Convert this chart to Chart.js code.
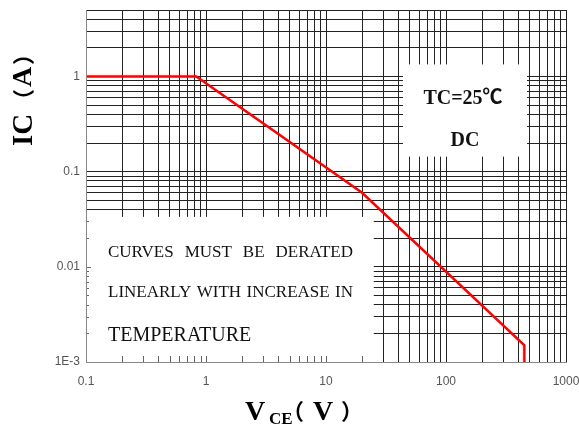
<!DOCTYPE html>
<html><head><meta charset="utf-8">
<script src="https://cdn.jsdelivr.net/npm/chart.js@4"></script>
<style>html,body{margin:0;padding:0;background:#fff}canvas{display:block}</style>
</head><body>
<canvas id="c" width="579" height="426"></canvas>
<script>
// ---- data ----
const vce = [0.1, 0.83, 20, 450, 450];
const ic  = [1, 1, 0.06, 0.0015, 0.001];
const xTickValues = [0.1, 1, 10, 100, 1000];
const xTickLabels = ['0.1', '1', '10', '100', '1000'];
const yTickValues = [0.001, 0.01, 0.1, 1];
const yTickLabels = ['1E-3', '0.01', '0.1', '1'];
const noteLines = ['CURVES MUST BE DERATED', 'LINEARLY WITH INCREASE IN', 'TEMPERATURE'];
const condLines = ['TC=25℃', 'DC'];
const xMin = 0.1, xMax = 1000, yMin = 0.001, yMax = 5;

function logGrid(min, max) {
  const out = [];
  for (let e = Math.floor(Math.log10(min) + 1e-9); Math.pow(10, e) <= max * 1.0001; e++) {
    for (let k = 1; k <= 9; k++) {
      const v = +(k * Math.pow(10, e)).toPrecision(6);
      if (v >= min * 0.9999 && v <= max * 1.0001) out.push(v);
    }
  }
  return out;
}
const gridX = logGrid(xMin, xMax);
const gridY = logGrid(yMin, yMax);
function labelFor(vals, labels, v) {
  const i = vals.findIndex(t => Math.abs(t - v) / t < 1e-6);
  return i >= 0 ? labels[i] : '';
}

function drawInk(ctx, text, font, inkLeft, inkTop) {
  ctx.font = font;
  ctx.textAlign = 'left';
  ctx.textBaseline = 'alphabetic';
  const m = ctx.measureText(text);
  ctx.fillText(text, inkLeft + m.actualBoundingBoxLeft, inkTop + m.actualBoundingBoxAscent);
}

const overlay = {
  id: 'overlay',
  beforeDatasetsDraw(chart) {
    const { ctx, scales: { x, y } } = chart;
    ctx.save();
    // note box
    const nx0 = x.getPixelForValue(0.1), nx1 = x.getPixelForValue(25);
    const ny0 = y.getPixelForValue(0.0335), ny1 = y.getPixelForValue(0.001);
    ctx.fillStyle = '#fff';
    ctx.fillRect(nx0, ny0, nx1 - nx0, ny1 - ny0);
    // condition box
    const cx0 = x.getPixelForValue(43.8), cx1 = x.getPixelForValue(473);
    const cy0 = y.getPixelForValue(1.34), cy1 = y.getPixelForValue(0.144);
    ctx.fillRect(cx0, cy0, cx1 - cx0, cy1 - cy0);
    // inner ticks inside note box
    ctx.strokeStyle = '#666';
    ctx.lineWidth = 1;
    ctx.beginPath();
    gridX.forEach(v => {
      const px = Math.round(x.getPixelForValue(v)) + 0.5;
      if (px > nx0 + 2 && px < nx1) { ctx.moveTo(px, ny1); ctx.lineTo(px, ny1 - 6); }
    });
    gridY.forEach(v => {
      const py = Math.round(y.getPixelForValue(v)) + 0.5;
      if (py > ny0 && py < ny1 - 2) {
        const len = yTickValues.some(t => Math.abs(t - v) / t < 1e-6) ? 5 : 3;
        ctx.moveTo(nx0, py); ctx.lineTo(nx0 + len, py);
      }
    });
    ctx.stroke();
    // note text
    ctx.fillStyle = '#111';
    ctx.textBaseline = 'alphabetic';
    ctx.textAlign = 'left';
    const left = 108, width = 245;
    const base = [256.5, 296.5];
    [0, 1].forEach(li => {
      ctx.font = '17px "Liberation Serif", "Times New Roman", serif';
      const words = noteLines[li].split(' ');
      const ws = words.map(w => ctx.measureText(w).width);
      const gap = (width - ws.reduce((a, b) => a + b, 0)) / (words.length - 1);
      let px = left;
      words.forEach((w, i) => { ctx.fillText(w, px, base[li]); px += ws[i] + gap; });
    });
    ctx.font = '20px "Liberation Serif", "Times New Roman", serif';
    ctx.fillText(noteLines[2], left, 340.5);
    // condition text
    ctx.textAlign = 'center';
    ctx.font = 'bold 20px "Liberation Serif", "Noto Sans CJK SC", serif';
    ctx.fillText(condLines[0], 463, 104);
    ctx.fillText(condLines[1], 465, 146);
    ctx.restore();
  },
  afterDraw(chart) {
    const ctx = chart.ctx;
    ctx.save();
    ctx.fillStyle = '#000';
    const serifB = (s) => `bold ${s}px "Liberation Serif", "Times New Roman", serif`;
    const cjkB = (s) => `bold ${s}px "Noto Sans CJK SC", sans-serif`;
    // x title: V_CE（V）
    drawInk(ctx, 'V', serifB(28), 245, 401.5);
    drawInk(ctx, 'CE', serifB(17), 269, 412.5);
    drawInk(ctx, '（', cjkB(22), 296, 400);
    drawInk(ctx, 'V', serifB(28), 313, 401.5);
    drawInk(ctx, '）', cjkB(22), 341, 400);
    // y title: IC（A） rotated
    ctx.save();
    ctx.rotate(-Math.PI / 2);
    // in rotated coords: (u, v) -> screen (v, -u)
    drawInk(ctx, 'IC', serifB(29), -146, 13);
    drawInk(ctx, '（', cjkB(22), -97, 12);
    drawInk(ctx, 'A', serifB(28), -87, 13);
    drawInk(ctx, '）', cjkB(22), -65, 12);
    ctx.restore();
    ctx.restore();
  }
};

const tickFont = { family: '"Liberation Sans", Arial, sans-serif', size: 12 };

new Chart(document.getElementById('c'), {
  type: 'scatter',
  data: {
    datasets: [{
      data: vce.map((v, i) => ({ x: v, y: ic[i] })),
      showLine: true,
      borderColor: '#ff0000',
      backgroundColor: '#ff0000',
      borderWidth: 2.5,
      pointRadius: 0,
      tension: 0
    }]
  },
  options: {
    responsive: false,
    animation: false,
    devicePixelRatio: 1,
    layout: { padding: { top: 10, right: 13, left: 0, bottom: 0 } },
    plugins: { legend: { display: false }, tooltip: { enabled: false } },
    scales: {
      x: {
        type: 'logarithmic', min: xMin, max: xMax,
        afterBuildTicks: s => { s.ticks = gridX.map(v => ({ value: v })); },
        afterFit: s => { s.height = 64; s.paddingLeft = 0; s.paddingRight = 0; },
        ticks: {
          autoSkip: false, maxRotation: 0, minRotation: 0, padding: 12,
          color: '#555', font: tickFont,
          callback: v => labelFor(xTickValues, xTickLabels, v)
        },
        grid: { color: '#222', lineWidth: 1, drawTicks: false },
        border: { display: true, color: '#888', width: 1, z: 1 }
      },
      y: {
        type: 'logarithmic', min: yMin, max: yMax,
        afterBuildTicks: s => { s.ticks = gridY.map(v => ({ value: v })); },
        afterFit: s => { s.width = 86; s.paddingTop = 0; s.paddingBottom = 0; },
        ticks: {
          autoSkip: false, padding: 6,
          color: '#555', font: tickFont,
          callback: v => labelFor(yTickValues, yTickLabels, v)
        },
        grid: { color: '#222', lineWidth: 1, drawTicks: false },
        border: { display: true, color: '#888', width: 1, z: 1 }
      }
    }
  },
  plugins: [overlay]
});
</script>
</body></html>
